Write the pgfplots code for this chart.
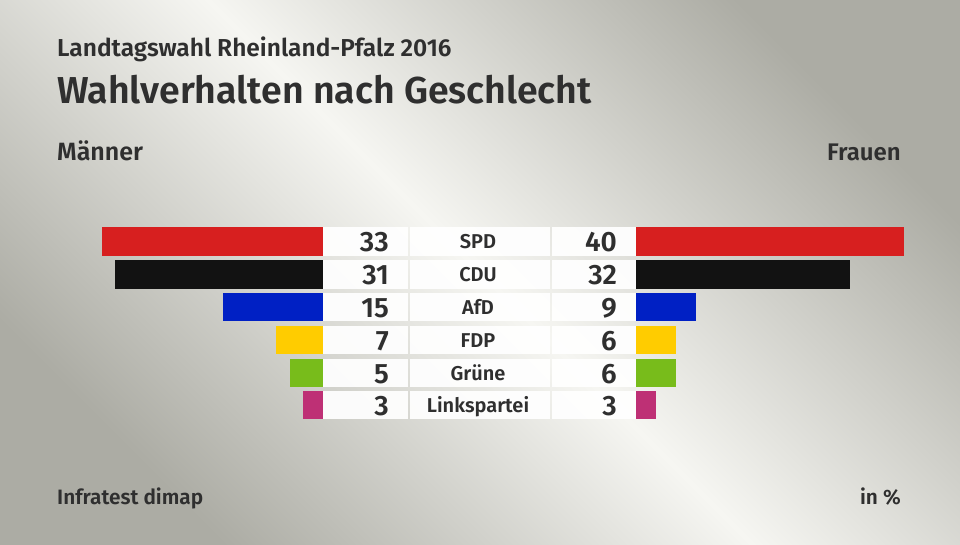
\documentclass[border=0pt]{standalone}
\usepackage{fontspec}
\setmainfont{Fira Sans}[BoldFont={Fira Sans SemiBold}]
\usepackage{pgfplots}
\pgfplotsset{compat=1.18}
\definecolor{spd}{HTML}{D71F1F}
\definecolor{cdu}{HTML}{121212}
\definecolor{afd}{HTML}{0020C4}
\definecolor{fdp}{HTML}{FFCC00}
\definecolor{gruene}{HTML}{78BC1B}
\definecolor{linke}{HTML}{BE3075}
\definecolor{txt}{HTML}{2F2F2F}
\definecolor{bgdark}{HTML}{ACACA4}
\definecolor{bglight}{HTML}{F6F6F2}
\pgfplotsset{mybar/.style={xbar, bar width=28.5pt, bar shift=0pt, draw=none}}
\begin{document}
\begin{tikzpicture}[x=1pt,y=1pt]
\shade[shading=axis, top color=bgdark, bottom color=bgdark, middle color=bglight, shading angle=-45] (0,0) rectangle (960,544);
% titles
\node[anchor=base west, text=txt, font=\bfseries\fontsize{24.5}{27}\selectfont, inner sep=0] at (57,{544-56.7}) {Landtagswahl Rheinland-Pfalz 2016};
\node[anchor=base west, text=txt, font=\bfseries\fontsize{37.5}{41}\selectfont, inner sep=0] at (57,{544-104}) {Wahlverhalten nach Geschlecht};
\node[anchor=base west, text=txt, font=\bfseries\fontsize{25}{28}\selectfont, inner sep=0] at (57,{544-160.7}) {Männer};
\node[anchor=base east, text=txt, font=\bfseries\fontsize{24}{28}\selectfont, inner sep=0] at (901,{544-160.7}) {Frauen};
\node[anchor=base west, text=txt, font=\bfseries\fontsize{20.8}{24}\selectfont, inner sep=0] at (57,{544-504.3}) {Infratest dimap};
\node[anchor=base east, text=txt, font=\bfseries\fontsize{20.8}{24}\selectfont, inner sep=0] at (901,{544-504.3}) {in \%};
% boxes and texts
\foreach \yc/\lab/\m/\f in {241.5/SPD/33/40, 274.5/CDU/31/32, 307/AfD/15/9, 340/FDP/7/6, 373/Grüne/5/6, 405/Linkspartei/3/3}{
  \fill[white, opacity=0.93] (323,{544-\yc-14.2}) rectangle (408,{544-\yc+14.2});
  \fill[white, opacity=0.93] (410,{544-\yc-14.2}) rectangle (550,{544-\yc+14.2});
  \fill[white, opacity=0.93] (552,{544-\yc-14.2}) rectangle (636,{544-\yc+14.2});
  \node[anchor=base east, text=txt, font=\bfseries\fontsize{28}{30}\selectfont, inner sep=0] at (389,{544-\yc-10.5}) {\m};
  \node[anchor=base east, text=txt, font=\bfseries\fontsize{28}{30}\selectfont, inner sep=0] at (617,{544-\yc-10.5}) {\f};
  \node[anchor=base, text=txt, font=\bfseries\fontsize{20}{22}\selectfont, inner sep=0] at (478,{544-\yc-7.5}) {\lab};
}
\begin{axis}[at={(323pt,0pt)}, anchor=south east, scale only axis,
  width=323pt, height=544pt, xmin=0, xmax=48.2090, x dir=reverse,
  ymin=0, ymax=544, y dir=reverse, hide axis, clip=false]
\addplot[mybar, fill=spd] coordinates {(33,241.5)};
\addplot[mybar, fill=cdu] coordinates {(31,274.5)};
\addplot[mybar, fill=afd] coordinates {(15,307)};
\addplot[mybar, fill=fdp] coordinates {(7,340)};
\addplot[mybar, fill=gruene] coordinates {(5,373)};
\addplot[mybar, fill=linke] coordinates {(3,405)};
\end{axis}
\begin{axis}[at={(636pt,0pt)}, anchor=south west, scale only axis,
  width=324pt, height=544pt, xmin=0, xmax=48.3582,
  ymin=0, ymax=544, y dir=reverse, hide axis, clip=false]
\addplot[mybar, fill=spd] coordinates {(40,241.5)};
\addplot[mybar, fill=cdu] coordinates {(32,274.5)};
\addplot[mybar, fill=afd] coordinates {(9,307)};
\addplot[mybar, fill=fdp] coordinates {(6,340)};
\addplot[mybar, fill=gruene] coordinates {(6,373)};
\addplot[mybar, fill=linke] coordinates {(3,405)};
\end{axis}
\end{tikzpicture}
\end{document}
